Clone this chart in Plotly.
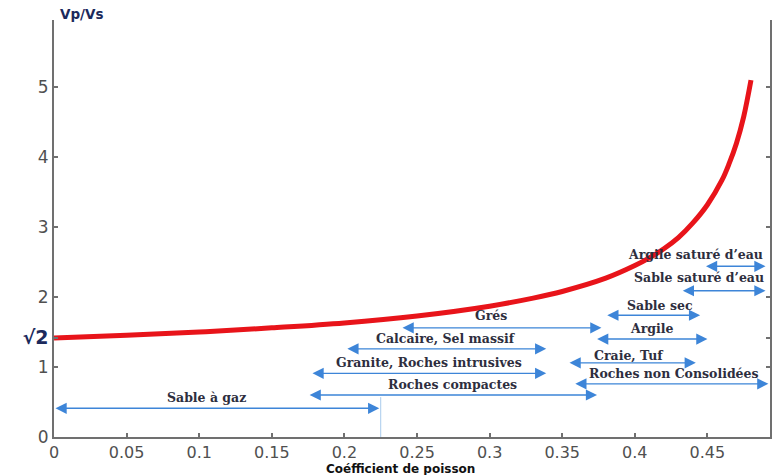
import plotly.graph_objects as go

# ---- data ----
poisson = [0.0, 0.05, 0.10, 0.15, 0.20, 0.25, 0.30, 0.33, 0.35, 0.38, 0.40,
           0.41, 0.42, 0.43, 0.44, 0.45, 0.46, 0.465, 0.47, 0.475, 0.48]
vp_vs = [1.414, 1.453, 1.50, 1.56, 1.63, 1.73, 1.87, 1.985, 2.08, 2.27, 2.45,
         2.56, 2.69, 2.85, 3.06, 3.32, 3.67, 3.91, 4.20, 4.58, 5.10]

rock_names = ["Sable à gaz", "Roches compactes", "Granite, Roches intrusives",
              "Calcaire, Sel massif", "Grés", "Sable sec", "Argile",
              "Craie, Tuf", "Roches non Consolidées", "Sable saturé d’eau",
              "Argile saturé d’eau"]
rock_min = [0.0, 0.175, 0.177, 0.201, 0.239, 0.380, 0.373, 0.354, 0.358, 0.432, 0.448]
rock_max = [0.224, 0.374, 0.339, 0.339, 0.377, 0.445, 0.450, 0.442, 0.492, 0.490, 0.490]
rock_level = [0.41, 0.60, 0.91, 1.26, 1.56, 1.74, 1.40, 1.06, 0.76, 2.09, 2.44]

x_ticks = [0, 0.05, 0.1, 0.15, 0.2, 0.25, 0.3, 0.35, 0.4, 0.45]
x_tick_text = ["0", "0.05", "0.1", "0.15", "0.2", "0.25", "0.3", "0.35", "0.4", "0.45"]
y_ticks = [0, 1, 1.414, 2, 3, 4, 5]
y_tick_text = ["0", "1", "<b><span style='color:#1c2a5c;font-size:19px'>√2</span></b>",
               "2", "3", "4", "5"]

# ---- layout tweaks for labels (pixels / data shifts) ----
label_dx = [-0.007, 0, 0, 0, -0.007, 0.005, 0, -0.002, 0.002, -0.017, -0.027]
label_dy = [11, 11, 11, 10, 12, 10, 11, 7, 10, 13, 12]

fig = go.Figure()
fig.add_trace(go.Scatter(x=poisson, y=vp_vs, mode="lines",
                         line=dict(color="#e8141a", width=5, shape="spline"),
                         hoverinfo="skip", showlegend=False))

ann = []
for name, a, b, lv, dx, dy in zip(rock_names, rock_min, rock_max, rock_level, label_dx, label_dy):
    ann.append(dict(x=b, y=lv, ax=a, ay=lv, xref="x", yref="y", axref="x", ayref="y",
                    text="", showarrow=True, arrowside="end+start", arrowhead=2,
                    arrowsize=1.6, arrowwidth=1.4, arrowcolor="#3d85d8",
                    standoff=0, startstandoff=0))
    ann.append(dict(x=(a + b) / 2 + dx, y=lv, xref="x", yref="y", text="<b>%s</b>" % name,
                    showarrow=False, yshift=dy, yanchor="middle",
                    font=dict(family="DejaVu Serif", size=12.5, color="#2e2e3e")))

ann.append(dict(x=0.0, y=1.0, xref="paper", yref="paper", text="<b>Vp/Vs</b>",
                showarrow=False, xanchor="left", yanchor="bottom", xshift=4, yshift=-4,
                font=dict(family="DejaVu Sans", size=13.5, color="#1c2a5c")))
ann.append(dict(x=0.5, y=0, xref="paper", yref="paper", text="<b>Coéfficient de poisson</b>",
                showarrow=False, xanchor="center", yanchor="top", xshift=-12, yshift=-23,
                font=dict(family="DejaVu Sans", size=12, color="#111111")))

fig.update_layout(
    width=773, height=475,
    margin=dict(l=54, r=1, t=20, b=38),
    plot_bgcolor="white", paper_bgcolor="white",
    annotations=ann,
    shapes=[dict(type="line", xref="x", yref="y", x0=0.225, x1=0.225, y0=-0.14, y1=0.57,
                 line=dict(color="#a9cbec", width=1))],
    xaxis=dict(range=[0, 0.4931], tickvals=x_ticks, ticktext=x_tick_text,
               showgrid=False, zeroline=False, showline=True, linecolor="#707070", linewidth=2,
               ticks="inside", ticklen=4, tickcolor="#707070", tickwidth=1.5,
               tickfont=dict(family="DejaVu Sans", size=16, color="#505050")),
    yaxis=dict(range=[0, 5.96], tickvals=y_ticks, ticktext=y_tick_text,
               showgrid=False, zeroline=False, showline=True, linecolor="#707070", linewidth=2,
               mirror="ticks", ticks="inside", ticklen=4, tickcolor="#707070", tickwidth=1.5,
               tickfont=dict(family="DejaVu Sans", size=17, color="#505050")),
)

fig.write_html("out.html", config={"displayModeBar": False},
               post_script="document.body.style.margin='0px';")
